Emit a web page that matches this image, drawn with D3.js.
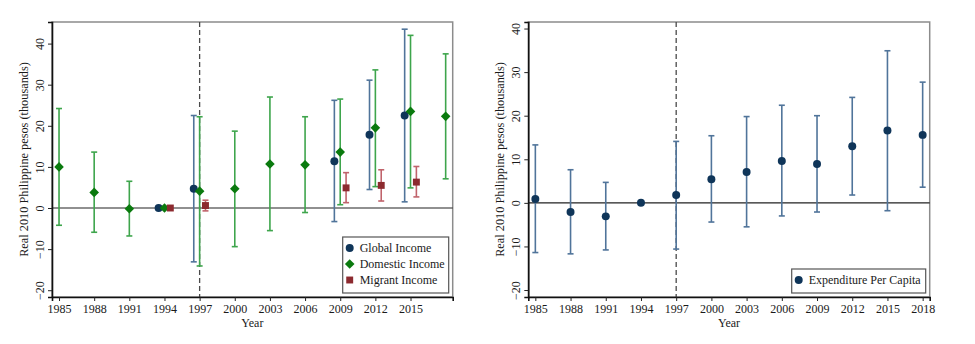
<!DOCTYPE html>
<html>
<head>
<meta charset="utf-8">
<script src="https://cdn.jsdelivr.net/npm/d3@7"></script>
<style>
  body { margin: 0; background: #fff; }
  text { font-family: "Liberation Serif", "Times New Roman", serif; fill: #1a1a1a; }
</style>
</head>
<body>
<div id="chart"></div>
<script>
// Survey years and tick labels.
const years = [1985, 1988, 1991, 1994, 1997, 2000, 2003, 2006, 2009, 2012, 2015, 2018];
const leftTickYears = [1985, 1988, 1991, 1994, 1997, 2000, 2003, 2006, 2009, 2012, 2015];
const rightTickYears = [1985, 1988, 1991, 1994, 1997, 2000, 2003, 2006, 2009, 2012, 2015, 2018];
const yTicks = [-20, -10, 0, 10, 20, 30, 40];
const breakYear = 1997;

// Domestic income (all years).
const domesticEst = [10.0, 3.8, -0.2, 0, 4.1, 4.7, 10.7, 10.5, 13.6, 19.5, 23.5, 22.3];
const domesticLo = [-4.2, -5.9, -6.8, 0, -14.1, -9.4, -5.5, -1.1, 0.8, 5.2, 4.9, 7.1];
const domesticHi = [24.2, 13.6, 6.5, 0, 22.2, 18.7, 27.0, 22.2, 26.5, 33.6, 42.0, 37.5];

// Global and migrant income (only some years).
const globalYears = [1994, 1997, 2009, 2012, 2015];
const globalEst = [0, 4.7, 11.4, 17.8, 22.5];
const globalLo = [0, -13.1, -3.3, 4.5, 1.5];
const globalHi = [0, 22.5, 26.2, 31.1, 43.5];

const migrantYears = [1994, 1997, 2009, 2012, 2015];
const migrantEst = [0, 0.6, 4.9, 5.5, 6.3];
const migrantLo = [0, -0.7, 1.3, 1.7, 2.7];
const migrantHi = [0, 1.9, 8.6, 9.3, 10.1];

// Expenditure per capita (right panel).
const expEst = [0.9, -2.1, -3.1, 0, 1.8, 5.4, 7.1, 9.6, 8.9, 13.0, 16.6, 15.6];
const expLo = [-11.4, -11.7, -10.8, 0, -10.6, -4.4, -5.5, -3.0, -2.1, 1.8, -1.8, 3.6];
const expHi = [13.3, 7.6, 4.7, 0, 14.1, 15.4, 19.8, 22.4, 20.0, 24.2, 34.9, 27.7];

const colors = {
  global: {mark: "#0f3559", bar: "#50749a"},
  domestic: {mark: "#0a7a0e", bar: "#3ea54c"},
  migrant: {mark: "#8c2a2f", bar: "#c0636b"}
};

const zip = (yrs, est, lo, hi) => yrs.map((y, i) => ({year: y, est: est[i], lo: lo[i], hi: hi[i]}));

let svg = d3.select("#chart")
.append("svg")
.attr("width", 975)
.attr("height", 344);

// Draw one panel: frame, axes, reference lines, series and legend.
const drawPanel = (opts) => {
  let x = d3.scaleLinear().domain([1984.4, 2018.6]).range([opts.left, opts.right]);
  let y = d3.scaleLinear().domain(opts.yDomain).range([297, 22]);

  let g = svg.append("g");

  // Plot region outline.
  g.append("rect")
  .attr("x", opts.left).attr("y", 22)
  .attr("width", opts.right - opts.left).attr("height", 275)
  .attr("fill", "none").attr("stroke", "#8c8c8c").attr("stroke-width", 1.5);

  // Zero line.
  g.append("line")
  .attr("x1", opts.left).attr("x2", opts.right)
  .attr("y1", y(0)).attr("y2", y(0))
  .attr("stroke", "#222").attr("stroke-width", 1.2);

  // Dashed line at the break year.
  g.append("line")
  .attr("x1", x(breakYear)).attr("x2", x(breakYear))
  .attr("y1", 22).attr("y2", 297)
  .attr("stroke", "#4a4a4a").attr("stroke-width", 1.3)
  .attr("stroke-dasharray", "5,3");

  // Axes.
  let xAxis = g.append("g")
  .attr("transform", "translate(0,297)")
  .call(d3.axisBottom(x).tickValues(opts.xTicks).tickFormat(d3.format("d")).tickSize(4).tickPadding(3));
  xAxis.select(".domain").attr("stroke", "#111").attr("stroke-width", 1.6);
  xAxis.selectAll(".tick line").attr("stroke", "#222");
  xAxis.selectAll(".tick text")
  .style("font-family", "Liberation Serif").style("font-size", "12px").attr("fill", "#1a1a1a");

  let yAxis = g.append("g")
  .attr("transform", "translate(" + opts.left + ",0)")
  .call(d3.axisLeft(y).tickValues(yTicks).tickSize(4).tickPadding(0));
  yAxis.select(".domain").attr("stroke", "#111").attr("stroke-width", 1.6);
  yAxis.selectAll(".tick line").attr("stroke", "#222");
  yAxis.selectAll(".tick text")
  .attr("x", null).attr("dy", null)
  .attr("text-anchor", "middle")
  .attr("transform", "translate(-8,0) rotate(-90)")
  .style("font-family", "Liberation Serif").style("font-size", "12px").attr("fill", "#1a1a1a");

  // Axis titles.
  g.append("text")
  .attr("text-anchor", "middle")
  .attr("x", (opts.left + opts.right) / 2)
  .attr("y", 327)
  .style("font-size", "12px")
  .text("Year");

  g.append("text")
  .attr("text-anchor", "middle")
  .attr("transform", "translate(" + (opts.left - 24) + "," + 159.5 + ") rotate(-90)")
  .style("font-size", "12.3px")
  .text("Real 2010 Philippine pesos (thousands)");

  // Error bars first, then the point markers.
  opts.series.forEach(s => {
    let bars = g.append("g")
    .selectAll("g")
    .data(s.data.filter(d => d.hi !== d.lo))
    .enter()
    .append("g")
    .attr("stroke", s.color.bar)
    .attr("stroke-width", 1.6);
    bars.append("line")
    .attr("x1", d => x(d.year + s.offset)).attr("x2", d => x(d.year + s.offset))
    .attr("y1", d => y(d.lo)).attr("y2", d => y(d.hi));
    bars.append("line")
    .attr("x1", d => x(d.year + s.offset) - 3).attr("x2", d => x(d.year + s.offset) + 3)
    .attr("y1", d => y(d.lo)).attr("y2", d => y(d.lo));
    bars.append("line")
    .attr("x1", d => x(d.year + s.offset) - 3).attr("x2", d => x(d.year + s.offset) + 3)
    .attr("y1", d => y(d.hi)).attr("y2", d => y(d.hi));
  });

  opts.series.forEach(s => {
    g.append("g")
    .selectAll("path")
    .data(s.data)
    .enter()
    .append("path")
    .attr("d", d3.symbol().type(s.symbol).size(s.size))
    .attr("transform", d => "translate(" + x(d.year + s.offset) + "," + y(d.est) + ")" + (s.rotate ? " rotate(45)" : ""))
    .attr("fill", s.color.mark);
  });

  // Legend box in the lower right corner.
  let lw = opts.legend.width, lh = 8 + opts.series.length * 16;
  let lx = opts.right - 4 - lw, ly = 293 - lh;
  let leg = g.append("g").attr("transform", "translate(" + lx + "," + ly + ")");
  leg.append("rect")
  .attr("width", lw).attr("height", lh)
  .attr("fill", "#fff").attr("stroke", "#555").attr("stroke-width", 1.2);
  opts.series.forEach((s, i) => {
    leg.append("path")
    .attr("d", d3.symbol().type(s.symbol).size(s.size))
    .attr("transform", "translate(7," + (11 + i * 16) + ")" + (s.rotate ? " rotate(45)" : ""))
    .attr("fill", s.color.mark);
    leg.append("text")
    .attr("x", 17).attr("y", 15 + i * 16)
    .style("font-size", "12px")
    .text(s.label);
  });
};

drawPanel({
  left: 52, right: 452.7, yDomain: [-21.65, 45.25], xTicks: leftTickYears,
  legend: {width: 106},
  series: [
    {label: "Global Income", data: zip(globalYears, globalEst, globalLo, globalHi), offset: -0.5,
      color: colors.global, symbol: d3.symbolCircle, size: 50},
    {label: "Domestic Income", data: zip(years, domesticEst, domesticLo, domesticHi), offset: 0,
      color: colors.domestic, symbol: d3.symbolSquare, size: 46, rotate: true},
    {label: "Migrant Income", data: zip(migrantYears, migrantEst, migrantLo, migrantHi), offset: 0.5,
      color: colors.migrant, symbol: d3.symbolSquare, size: 48}
  ]
});

drawPanel({
  left: 528.3, right: 929.7, yDomain: [-21.6, 41.5], xTicks: rightTickYears,
  legend: {width: 134},
  series: [
    {label: "Expenditure Per Capita", data: zip(years, expEst, expLo, expHi), offset: 0,
      color: colors.global, symbol: d3.symbolCircle, size: 50}
  ]
});
</script>
</body>
</html>
